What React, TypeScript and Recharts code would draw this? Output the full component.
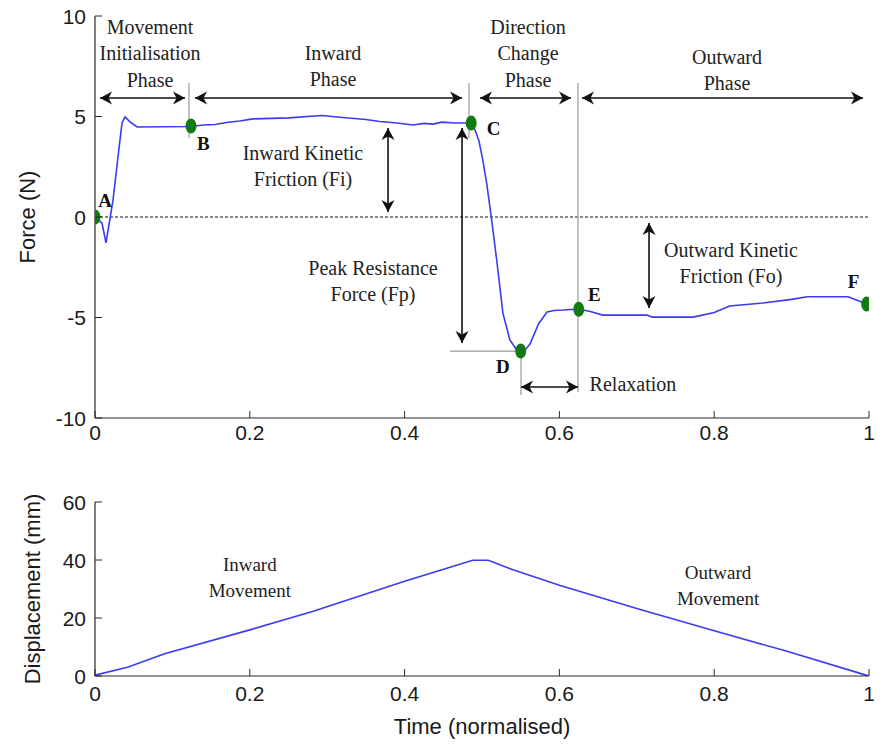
import React from 'react';
import {
  ComposedChart,
  Line,
  Scatter,
  XAxis,
  YAxis,
  ReferenceLine,
  ReferenceDot,
} from 'recharts';

// ---- data ----
const xTicks = [0, 0.2, 0.4, 0.6, 0.8, 1];
const forceTicks = [-10, -5, 0, 5, 10];
const dispTicks = [0, 20, 40, 60];

const forceTime = [
  0, 0.009, 0.0142, 0.0233, 0.0297, 0.0349, 0.0388, 0.0452, 0.0543, 0.124, 0.14, 0.155, 0.17, 0.187,
  0.204, 0.25, 0.293, 0.32, 0.35, 0.368, 0.39, 0.411, 0.425, 0.437, 0.448, 0.465, 0.486, 0.491, 0.496,
  0.501, 0.506, 0.512, 0.519, 0.527, 0.536, 0.545, 0.55, 0.556, 0.562, 0.573, 0.584, 0.593, 0.605,
  0.615, 0.625, 0.64, 0.656, 0.713, 0.72, 0.773, 0.8, 0.82, 0.863, 0.9, 0.92, 0.973, 0.997,
];
const forceValue = [
  0, -0.3, -1.29, 0.85, 2.99, 4.68, 4.98, 4.73, 4.48, 4.5, 4.58, 4.6, 4.7, 4.78,
  4.88, 4.93, 5.05, 4.95, 4.85, 4.75, 4.68, 4.58, 4.66, 4.62, 4.72, 4.68, 4.68, 4.33, 3.8,
  2.84, 1.69, 0, -2.14, -4.78, -6.12, -6.62, -6.67, -6.6, -6.32, -5.32, -4.73, -4.65, -4.63,
  -4.6, -4.59, -4.7, -4.88, -4.88, -4.98, -4.98, -4.75, -4.43, -4.28, -4.1, -3.97, -3.97, -4.33,
];

const dispTime = [0, 0.042, 0.09, 0.2, 0.283, 0.397, 0.443, 0.488, 0.508, 0.54, 0.6, 0.7, 0.8, 0.893, 0.996, 1];
const dispValue = [0.3, 3.0, 7.7, 15.9, 22.4, 32.4, 36.2, 39.9, 39.9, 36.6, 31.3, 23.3, 15.6, 8.6, 0.3, 0];

const pointNames = ['A', 'B', 'C', 'D', 'E', 'F'];
const pointTime = [0, 0.124, 0.486, 0.55, 0.625, 0.997];
const pointForce = [0, 4.53, 4.68, -6.67, -4.59, -4.33];

// annotation anchors (data units)
const pointLabelTime = [0.013, 0.14, 0.515, 0.527, 0.645, 0.98];
const pointLabelForce = [0.8, 3.68, 4.38, -7.46, -3.88, -3.23];

const topNotes = [
  { lines: ['Movement', 'Initialisation', 'Phase'], t: 0.0711, f: 9.45 },
  { lines: ['Inward', 'Phase'], t: 0.3075, f: 8.16 },
  { lines: ['Direction', 'Change', 'Phase'], t: 0.5594, f: 9.45 },
  { lines: ['Outward', 'Phase'], t: 0.8165, f: 7.96 },
  { lines: ['Inward Kinetic', 'Friction (Fi)'], t: 0.2687, f: 3.18 },
  { lines: ['Peak Resistance', 'Force (Fp)'], t: 0.3592, f: -2.54 },
  { lines: ['Outward Kinetic', 'Friction (Fo)'], t: 0.8217, f: -1.64 },
  { lines: ['Relaxation'], t: 0.695, f: -8.31 },
];

const bottomNotes = [
  { lines: ['Inward', 'Movement'], t: 0.2, f: 38.5 },
  { lines: ['Outward', 'Movement'], t: 0.805, f: 35.6 },
];

// double headed arrows: [t1, f1, t2, f2]
const arrows = [
  [0.0065, 5.92, 0.1163, 5.92],
  [0.1292, 5.92, 0.4742, 5.92],
  [0.4974, 5.92, 0.615, 5.92],
  [0.6292, 5.92, 0.9922, 5.92],
  [0.3786, 4.43, 0.3786, 0.25],
  [0.4742, 4.43, 0.4742, -6.27],
  [0.7158, -0.3, 0.7158, -4.53],
  [0.5504, -8.46, 0.624, -8.46],
];

// thin grey guide lines: [t1, f1, t2, f2]
const guides = [
  [0.1214, 6.67, 0.1214, 3.93],
  [0.4832, 6.67, 0.4832, 3.93],
  [0.624, 6.67, 0.624, -8.71],
  [0.4587, -6.67, 0.5504, -6.67],
  [0.5504, -6.67, 0.5504, -8.86],
];

const forceData = forceTime.map((t, i) => ({ t, f: forceValue[i] }));
const dispData = dispTime.map((t, i) => ({ t, d: dispValue[i] }));
const pointData = pointTime.map((t, i) => ({ t, f: pointForce[i], name: pointNames[i] }));

// ---- styling ----
const AXIS = '#2b2b2b';
const BLUE = '#3b3bf2';
const GREEN = '#117a11';
const SANS = '"Liberation Sans", Arial, sans-serif';
const SERIF = '"Liberation Serif", "Times New Roman", serif';

const makeBottomTick = (base: number) => (p: any) => (
  <g>
    <line x1={p.x} x2={p.x} y1={p.y} y2={p.y - 7} stroke={AXIS} strokeWidth={1} />
    <text x={p.x} y={p.y + base} textAnchor="middle" fontFamily={SANS} fontSize={21} fill="#1a1a1a">
      {String(p.payload.value)}
    </text>
  </g>
);
const TopTick = (p: any) => (
  <line x1={p.x} x2={p.x} y1={p.y} y2={p.y + 7} stroke={AXIS} strokeWidth={1} />
);
const LeftTick = (p: any) => (
  <g>
    <line x1={p.x} x2={p.x + 7} y1={p.y} y2={p.y} stroke={AXIS} strokeWidth={1} />
    <text x={p.x - 9} y={p.y + 7.5} textAnchor="end" fontFamily={SANS} fontSize={21} fill="#1a1a1a">
      {String(p.payload.value)}
    </text>
  </g>
);
const RightTick = (p: any) => (
  <line x1={p.x} x2={p.x - 7} y1={p.y} y2={p.y} stroke={AXIS} strokeWidth={1} />
);

const arrowShape = (p: any) => {
  const { x1, y1, x2, y2 } = p;
  const a = Math.atan2(y2 - y1, x2 - x1);
  const head = (x: number, y: number, ang: number) => {
    const c = Math.cos(ang);
    const s = Math.sin(ang);
    const pt = (u: number, v: number) => `${x - u * c - v * s},${y - u * s + v * c}`;
    return <polygon points={`${pt(0, 0)} ${pt(12, 6.5)} ${pt(8.5, 0)} ${pt(12, -6.5)}`} fill="#111" />;
  };
  return (
    <g>
      <line x1={x1} y1={y1} x2={x2} y2={y2} stroke="#111" strokeWidth={1.6} />
      {head(x2, y2, a)}
      {head(x1, y1, a + Math.PI)}
    </g>
  );
};

const noteShape = (lines: string[], size: number, gap: number) => (p: any) => (
  <text x={p.cx} y={p.cy} textAnchor="middle" fontFamily={SERIF} fontSize={size} fill="#222">
    {lines.map((l, i) => (
      <tspan key={i} x={p.cx} dy={i === 0 ? size * 0.34 : gap}>
        {l}
      </tspan>
    ))}
  </text>
);

const pointLabelShape = (name: string) => (p: any) => (
  <text x={p.cx} y={p.cy + 6.5} textAnchor="middle" fontFamily={SERIF} fontWeight="bold" fontSize={19} fill="#111">
    {name}
  </text>
);

const markerShape = (p: any) => <ellipse cx={p.cx} cy={p.cy} rx={5.5} ry={7.5} fill={GREEN} />;

export default function App() {
  return (
    <div style={{ position: 'absolute', left: 0, top: 0, width: 883, height: 752, background: '#fff' }}>
      <div style={{ position: 'absolute', left: 0, top: 0 }}>
        <ComposedChart width={883} height={450} margin={{ top: 16, right: 14, bottom: 0, left: 0 }}>
          <XAxis
            xAxisId="b"
            type="number"
            dataKey="t"
            domain={[0, 1]}
            ticks={xTicks}
            interval={0}
            allowDataOverflow
            height={32}
            tickSize={0}
            tickMargin={0}
            tickLine={false}
            axisLine={{ stroke: AXIS, strokeWidth: 1.2 }}
            tick={makeBottomTick(21.5)}
          />
          <XAxis
            xAxisId="t"
            orientation="top"
            type="number"
            domain={[0, 1]}
            ticks={xTicks}
            interval={0}
            allowDataOverflow
            height={0}
            tickSize={0}
            tickMargin={0}
            tickLine={false}
            axisLine={{ stroke: AXIS, strokeWidth: 1.2 }}
            tick={TopTick}
          />
          <YAxis
            yAxisId="l"
            type="number"
            domain={[-10, 10]}
            ticks={forceTicks}
            interval={0}
            allowDataOverflow
            width={95}
            tickSize={0}
            tickMargin={0}
            tickLine={false}
            axisLine={{ stroke: AXIS, strokeWidth: 1.2 }}
            tick={LeftTick}
            label={{
              value: 'Force (N)',
              angle: -90,
              position: 'insideLeft',
              offset: 27,
              style: { textAnchor: 'middle', fontFamily: SANS, fontSize: 22, fill: '#1a1a1a' },
            }}
          />
          <YAxis
            yAxisId="r"
            orientation="right"
            type="number"
            domain={[-10, 10]}
            ticks={forceTicks}
            interval={0}
            allowDataOverflow
            width={0}
            tickSize={0}
            tickMargin={0}
            tickLine={false}
            axisLine={{ stroke: AXIS, strokeWidth: 1.2 }}
            tick={RightTick}
          />
          <ReferenceLine xAxisId="b" yAxisId="l" y={0} stroke="#111" strokeDasharray="3 2" strokeWidth={1} />
          {guides.map((g, i) => (
            <ReferenceLine
              key={'g' + i}
              xAxisId="b"
              yAxisId="l"
              segment={[{ x: g[0], y: g[1] }, { x: g[2], y: g[3] }]}
              stroke="#9a9a9a"
              strokeWidth={1.2}
            />
          ))}
          {arrows.map((a, i) => (
            <ReferenceLine
              key={'a' + i}
              xAxisId="b"
              yAxisId="l"
              segment={[{ x: a[0], y: a[1] }, { x: a[2], y: a[3] }]}
              shape={arrowShape}
            />
          ))}
          <Line
            xAxisId="b"
            yAxisId="l"
            data={forceData}
            dataKey="f"
            type="linear"
            stroke={BLUE}
            strokeWidth={1.6}
            dot={false}
            activeDot={false}
            isAnimationActive={false}
          />
          <Scatter
            xAxisId="b"
            yAxisId="l"
            data={pointData}
            dataKey="f"
            shape={markerShape}
            isAnimationActive={false}
          />
          {topNotes.map((n, i) => (
            <ReferenceDot
              key={'n' + i}
              xAxisId="b"
              yAxisId="l"
              x={n.t}
              y={n.f}
              r={0}
              shape={noteShape(n.lines, 20, 26.5)}
            />
          ))}
          {pointNames.map((name, i) => (
            <ReferenceDot
              key={'p' + i}
              xAxisId="b"
              yAxisId="l"
              x={pointLabelTime[i]}
              y={pointLabelForce[i]}
              r={0}
              shape={pointLabelShape(name)}
            />
          ))}
        </ComposedChart>
      </div>

      <div style={{ position: 'absolute', left: 0, top: 460 }}>
        <ComposedChart width={883} height={292} margin={{ top: 42, right: 14, bottom: 0, left: 0 }}>
          <XAxis
            xAxisId="b"
            type="number"
            dataKey="t"
            domain={[0, 1]}
            ticks={xTicks}
            interval={0}
            allowDataOverflow
            height={76}
            tickSize={0}
            tickMargin={0}
            tickLine={false}
            axisLine={{ stroke: AXIS, strokeWidth: 1.2 }}
            tick={makeBottomTick(24.5)}
            label={{
              value: 'Time (normalised)',
              position: 'insideBottom',
              offset: 18,
              style: { fontFamily: SANS, fontSize: 22, fill: '#1a1a1a' },
            }}
          />
          <XAxis
            xAxisId="t"
            orientation="top"
            type="number"
            domain={[0, 1]}
            ticks={xTicks}
            interval={0}
            allowDataOverflow
            height={0}
            tickSize={0}
            tickMargin={0}
            tickLine={false}
            axisLine={{ stroke: AXIS, strokeWidth: 1.2 }}
            tick={TopTick}
          />
          <YAxis
            yAxisId="l"
            type="number"
            domain={[0, 60]}
            ticks={dispTicks}
            interval={0}
            allowDataOverflow
            width={95}
            tickSize={0}
            tickMargin={0}
            tickLine={false}
            axisLine={{ stroke: AXIS, strokeWidth: 1.2 }}
            tick={LeftTick}
            label={{
              value: 'Displacement (mm)',
              angle: -90,
              position: 'insideLeft',
              offset: 32,
              style: { textAnchor: 'middle', fontFamily: SANS, fontSize: 22, fill: '#1a1a1a' },
            }}
          />
          <YAxis
            yAxisId="r"
            orientation="right"
            type="number"
            domain={[0, 60]}
            ticks={dispTicks}
            interval={0}
            allowDataOverflow
            width={0}
            tickSize={0}
            tickMargin={0}
            tickLine={false}
            axisLine={{ stroke: AXIS, strokeWidth: 1.2 }}
            tick={RightTick}
          />
          <Line
            xAxisId="b"
            yAxisId="l"
            data={dispData}
            dataKey="d"
            type="linear"
            stroke={BLUE}
            strokeWidth={1.6}
            dot={false}
            activeDot={false}
            isAnimationActive={false}
          />
          {bottomNotes.map((n, i) => (
            <ReferenceDot
              key={'bn' + i}
              xAxisId="b"
              yAxisId="l"
              x={n.t}
              y={n.f}
              r={0}
              shape={noteShape(n.lines, 19, 26)}
            />
          ))}
        </ComposedChart>
      </div>
    </div>
  );
}
